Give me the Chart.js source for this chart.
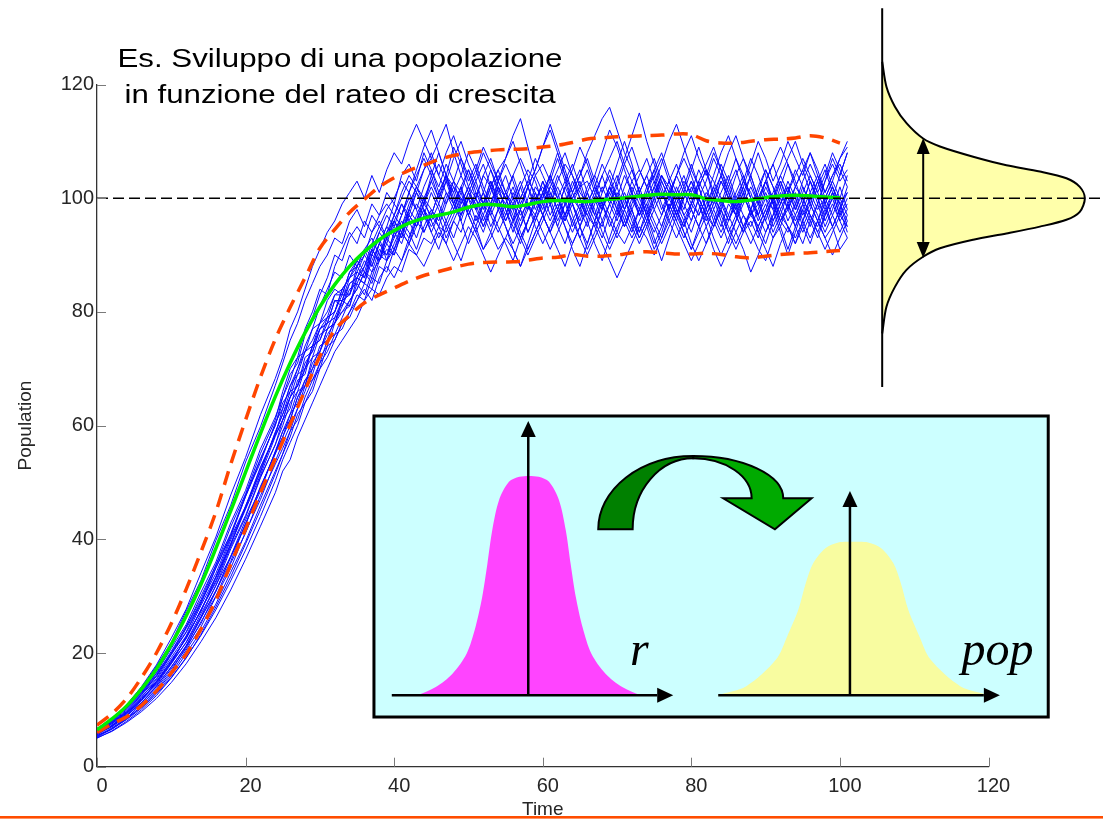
<!DOCTYPE html>
<html>
<head>
<meta charset="utf-8">
<script src="https://cdn.jsdelivr.net/npm/chart.js@4/dist/chart.umd.min.js"></script>
<style>
html,body{margin:0;padding:0;background:#fff;overflow:hidden}
#wrap{position:relative;width:1103px;height:821px}
canvas{display:block}
</style>
</head>
<body>
<div id="wrap"><canvas id="c" width="1103" height="821"></canvas></div>
<script>
// ---------------- data ----------------
const time = [0,2,4,6,8,10,12,14,16,18,20,22,24,
25,26,27,28,29,30,31,32,33,34,35,36,37,38,39,40,41,42,43,44,45,46,47,48,49,50,
51,52,53,54,55,56,57,58,59,60,61,62,63,64,65,66,67,68,69,70,71,72,73,74,75,76,
77,78,79,80,81,82,83,84,85,86,87,88,89,90,91,92,93,94,95,96,97,98,99,100,101];

const run01 = [6.5,8.4,10.9,13.8,17.7,21.8,27.4,32.8,39.8,46.0,53.6,59.8,67.1,
71,75,78,82,85,88,90,93,92,96,98,95,99,97,101,99,104,106,103,108,105,101,104,99,102,97,100,104,107,103,100,96,98,94,97,101,99,103,106,104,100,97,95,98,102,100,104,101,97,99,96,93,97,100,103,101,105,102,98,95,99,97,101,104,100,103,99,96,98,102,105,101,98,100,103,107,110];
const run02 = [6.3,8.2,10.4,13.2,16.5,20.8,25.0,30.7,36.0,42.9,48.6,55.9,61.5,
65,68,72,73,77,78,82,84,83,87,89,87,91,94,92,96,99,97,101,98,95,97,93,96,99,102,100,97,94,91,93,96,100,103,101,98,102,105,108,104,101,99,96,100,97,94,92,95,98,101,104,107,103,100,97,99,103,106,109,105,102,98,95,97,100,96,93,95,99,102,100,97,94,97,101,99,96];
const run03 = [6.0,7.9,9.8,12.6,15.5,19.7,23.6,28.7,34.9,40.5,47.6,53.5,60.5,
63,67,69,73,75,78,79,83,84,86,89,91,88,92,95,93,97,100,98,94,97,101,99,103,107,104,100,96,99,102,98,95,92,96,99,103,100,104,101,97,93,96,100,98,102,99,95,98,101,104,100,97,101,98,94,91,94,97,100,98,102,105,101,97,99,103,100,96,99,95,98,101,104,100,97,94,97];
const run04 = [5.8,7.2,9.4,11.6,15.0,18.2,22.9,27.3,33.4,39.0,45.9,51.8,58.9,
62,65,69,70,74,77,78,82,81,85,86,89,87,91,90,94,92,96,99,97,101,98,95,98,102,105,101,98,102,99,96,99,102,98,101,97,94,97,100,95,98,102,104,101,105,102,98,101,97,100,103,99,96,93,96,99,102,105,103,100,96,99,95,92,95,98,101,104,101,98,102,99,103,106,102,99,101];
const run05 = [6.2,7.7,9.7,12.2,15.3,19.2,23.0,28.4,33.4,39.9,45.5,52.5,58.3,
61,65,67,71,73,77,79,80,84,86,88,91,93,90,94,97,95,99,102,100,96,93,96,99,97,101,104,108,105,101,104,100,97,99,95,92,95,98,96,100,103,99,102,106,103,100,96,93,96,99,102,98,101,104,107,104,100,97,95,98,94,97,100,98,102,105,102,99,103,100,96,93,96,99,102,98,101];
const run06 = [5.6,7.2,9.1,11.7,14.4,18.1,21.9,26.9,31.8,38.3,43.9,50.8,56.7,
60,64,66,70,72,76,77,80,83,83,87,86,90,89,93,91,95,98,96,100,103,100,104,101,97,100,96,99,95,98,101,104,100,103,107,104,101,98,102,99,95,92,96,99,101,98,102,105,101,97,100,104,102,98,95,98,95,99,102,106,103,99,102,98,94,97,100,103,99,96,99,103,100,97,100,104,108];
const run07 = [5.9,7.1,9.0,11.3,14.1,17.6,21.2,26.3,30.8,37.0,42.5,49.3,55.0,
58,62,64,68,70,74,75,79,80,82,84,87,85,89,91,90,94,92,96,99,97,101,104,102,98,101,99,95,98,102,100,97,93,96,100,102,99,95,92,96,99,97,100,104,100,97,99,103,105,102,98,95,99,96,100,103,100,97,93,90,93,96,99,102,99,103,106,102,98,101,97,100,103,99,95,98,94];
const run08 = [5.4,6.8,8.6,11.0,13.5,16.8,21.1,25.2,30.9,36.1,42.8,48.5,55.5,
59,61,65,67,71,73,77,78,81,84,85,88,91,89,93,95,93,97,95,99,102,99,96,93,97,100,98,95,99,103,106,103,99,102,98,101,104,101,97,94,97,101,98,94,91,94,98,101,98,102,105,101,98,102,99,96,100,103,107,104,100,97,94,96,93,97,100,97,101,105,102,99,96,100,103,100,97];
const run09 = [6.0,7.6,9.5,12.0,14.6,18.3,21.8,26.4,31.9,37.0,43.4,48.9,55.4,
58,61,65,68,69,73,76,78,82,83,86,85,89,92,90,93,96,94,91,95,98,96,100,103,101,105,102,99,97,100,97,101,98,102,105,109,112,108,104,101,98,101,97,95,99,103,107,111,115,110,106,102,98,101,97,94,98,101,99,103,100,98,101,97,95,92,96,99,102,99,95,98,102,105,101,97,99];
const run10 = [6.4,8.0,10.3,13.0,16.1,20.3,24.5,30.0,35.4,42.2,48.0,55.1,61.0,
66,70,72,77,80,84,83,88,91,94,92,96,94,97,99,97,101,104,102,105,107,110,113,108,104,101,98,101,97,94,97,100,103,99,96,99,102,100,97,101,104,107,103,99,102,98,95,98,94,97,101,104,101,97,100,103,99,95,98,101,104,100,103,107,104,100,96,99,102,98,101,104,101,98,95,98,102];
const run11 = [5.3,6.7,8.5,10.6,13.3,16.4,20.5,24.6,29.9,34.9,41.3,47.0,53.7,
57,60,63,66,70,72,74,78,80,81,85,83,87,89,92,90,94,97,95,98,94,97,101,99,102,98,95,91,94,98,101,99,96,100,104,101,97,100,103,106,102,98,101,104,107,110,106,103,100,97,94,97,100,104,101,98,95,98,102,99,96,99,103,101,97,94,97,100,96,99,103,106,103,99,102,99,95];
const run12 = [5.0,6.3,8.0,10.0,12.5,15.6,19.1,23.3,28.1,33.4,39.2,45.2,51.5,
55,58,62,64,67,71,73,76,77,80,82,85,84,88,87,91,89,93,96,94,97,95,99,102,100,97,100,104,102,98,95,92,95,99,97,94,91,94,97,100,98,95,99,102,99,96,100,97,93,96,99,103,100,97,101,98,102,105,101,97,94,91,94,98,95,98,94,97,95,92,95,92,96,93,95,91,93];
const run13 = [5.7,7.0,8.9,11.3,13.8,17.2,20.8,25.5,30.0,35.8,41.1,47.7,53.2,
56,59,63,67,68,71,75,76,79,82,84,87,86,90,89,92,95,93,97,100,98,95,92,96,94,98,101,99,103,100,96,99,95,98,102,100,103,107,103,99,102,105,101,98,101,104,100,96,93,96,92,95,99,96,93,96,100,97,100,104,101,97,94,98,101,105,102,98,95,92,96,100,97,94,97,100,104];
const run14 = [6.6,8.3,10.2,12.8,15.9,19.9,23.7,29.0,34.0,40.3,45.8,52.7,58.4,
63,67,70,74,77,81,84,87,86,90,88,90,94,96,93,97,100,103,101,105,108,104,101,98,101,97,94,97,101,104,101,98,94,91,94,97,101,98,102,105,109,106,102,99,95,98,95,99,102,98,95,92,95,98,95,99,103,100,104,108,111,107,103,100,97,100,98,102,106,103,99,96,99,103,106,103,105];
const run15 = [5.1,6.2,7.8,9.7,12.0,14.8,18.1,22.0,26.2,31.1,36.5,42.3,48.2,
52,54,58,61,64,67,70,73,75,77,79,82,84,83,86,88,87,91,90,93,92,95,94,97,100,97,94,91,93,96,99,96,93,90,93,96,99,102,99,96,93,90,93,96,92,95,98,95,92,95,98,101,98,95,92,89,92,95,91,88,91,94,97,94,91,89,93,96,94,97,100,97,94,91,94,97,95];
const run16 = [5.9,7.5,9.5,11.8,14.9,18.6,22.6,27.6,32.7,39.1,45.3,51.3,58.1,
61,65,67,70,74,75,78,79,82,85,86,88,92,95,93,96,94,98,101,99,103,106,103,107,110,106,103,99,102,105,107,111,114,109,104,106,103,100,97,100,102,103,100,96,99,102,106,109,105,102,104,100,103,106,102,99,97,100,97,94,97,101,104,100,96,99,95,98,101,104,107,104,101,104,108,105,102];
const run17 = [6.4,8.2,10.5,13.0,16.4,20.0,24.7,29.4,35.5,41.0,47.8,54.2,60.0,
65,69,71,76,79,83,86,90,89,93,95,93,97,95,98,100,103,101,104,107,104,100,103,99,96,100,103,106,102,105,101,98,102,105,103,99,96,99,95,92,95,99,102,99,96,93,96,100,97,101,105,108,104,101,104,100,97,100,96,93,96,100,97,95,98,102,99,103,100,97,94,97,95,98,101,97,100];
const run18 = [5.5,6.6,8.4,10.5,13.1,16.0,19.9,23.8,28.6,34.2,39.6,46.0,52.0,
55,59,61,65,68,70,74,75,78,80,83,82,86,85,89,91,94,92,95,98,96,99,103,101,104,108,105,101,98,101,99,102,98,94,97,101,104,100,96,99,96,100,97,101,104,100,97,94,98,95,91,94,98,101,98,102,99,96,99,103,100,104,107,103,99,96,100,104,107,110,106,103,100,96,99,96,98];
const run19 = [6.7,8.5,10.9,14.1,17.9,22.6,27.7,34.1,40.4,47.8,54.4,61.9,68.3,
72,77,80,84,88,91,94,96,99,101,103,100,104,101,105,108,106,110,113,110,107,104,108,111,107,103,106,102,99,103,107,110,106,102,105,109,113,109,105,101,104,108,111,114,116,112,108,105,101,104,107,103,100,104,108,111,107,104,108,105,101,98,102,106,110,107,103,106,110,107,104,108,105,101,104,107,109];
const run20 = [5.2,6.6,8.3,10.3,12.8,15.7,19.2,23.1,27.6,32.7,38.1,44.0,50.3,
54,57,60,64,66,70,72,75,78,79,82,84,82,86,88,86,89,92,90,88,91,94,92,89,92,95,93,90,87,90,93,91,88,91,94,97,94,91,88,92,95,98,95,92,89,86,89,92,95,93,90,93,96,99,96,92,89,92,95,98,95,92,95,98,94,91,88,92,95,93,96,99,96,93,90,93,96];
const run21 = [6.1,7.8,9.6,12.3,15.0,18.8,22.5,27.6,32.4,38.7,44.2,51.0,56.6,
61,63,68,69,74,75,79,80,84,83,88,86,91,89,94,96,93,98,102,99,104,108,104,100,96,92,95,99,103,99,95,91,88,92,96,100,104,108,104,99,95,91,94,98,102,106,110,106,101,97,93,89,93,97,101,105,109,105,100,96,92,96,100,104,108,104,99,95,91,95,99,103,99,95,98,102,98];
const run22 = [5.8,7.2,9.1,11.2,14.2,17.5,21.3,26.1,31.0,36.8,42.7,49.1,55.2,
59,62,66,67,72,73,77,78,82,81,86,85,90,93,89,94,97,101,105,109,112,108,104,109,106,102,98,101,105,102,98,94,98,102,99,103,99,95,99,103,100,96,92,89,93,97,101,98,94,98,102,106,110,113,109,105,102,98,95,99,103,107,104,100,97,101,98,94,90,94,98,95,99,103,107,104,108];
const run23 = [6.2,8.0,10.0,12.7,15.9,19.8,24.3,29.0,35.0,40.8,47.5,54.0,60.1,
64,66,70,73,74,78,80,83,83,87,88,91,90,94,97,95,99,96,93,97,94,91,95,92,89,93,97,94,98,95,92,89,93,96,100,97,94,98,95,91,88,92,96,93,97,101,98,102,99,96,100,104,101,97,94,91,95,92,96,100,97,94,91,87,90,94,97,101,98,95,92,96,93,97,100,96,93];
const run24 = [5.7,7.3,9.3,11.7,14.8,18.4,22.7,27.5,33.2,39.3,45.6,52.0,58.7,
62,66,67,72,73,77,78,82,82,86,87,90,88,92,95,99,97,101,98,102,105,102,106,103,99,102,105,109,106,103,100,104,107,104,100,97,100,96,99,102,105,101,104,108,112,109,105,101,104,107,103,100,103,99,102,106,102,98,101,104,108,111,107,104,100,103,106,109,106,102,105,108,104,101,104,106,103];

const meanTime = [0,2,4,6,8,10,12,14,16,18,20,22,24,26,28,30,32,34,36,38,40,42,44,46,48,50,
52,54,56,58,60,62,64,66,68,70,72,74,76,78,80,82,84,86,88,90,92,94,96,98,100];
const meanPop = [6.5,8.4,10.7,13.7,17.2,21.5,26.5,32.1,38.4,45.0,51.8,58.6,65.1,71.0,76.3,80.9,84.8,88.0,90.6,92.7,94.3,95.6,96.5,97.0,97.6,98.4,
98.9,98.8,98.5,98.9,99.4,99.6,99.5,99.4,99.7,99.9,100.2,100.5,100.7,100.6,100.6,99.9,99.6,99.4,99.7,100.1,100.4,100.5,100.4,100.2,100.1];
const upperBand = [7.3,9.3,12.0,15.7,20.0,25.2,31.2,37.8,44.8,53.2,61.0,68.5,75.2,80.8,86.0,91.2,94.5,97.5,99.8,102.0,103.6,104.9,105.8,106.8,107.5,108.0,
108.3,108.5,108.6,108.7,109.0,109.3,109.8,110.4,110.6,110.8,110.9,111.0,111.1,111.3,111.2,110.1,109.7,109.7,110.0,110.3,110.4,110.6,111.0,110.6,109.7];
const lowerBand = [6.0,7.5,8.8,10.8,13.3,16.5,19.8,24.2,29.3,35.6,41.8,48.2,54.2,60.2,66.2,72.2,76.8,79.4,81.6,83.0,84.2,85.4,86.4,87.1,87.8,88.4,
88.7,88.8,88.8,89.1,89.5,89.6,90.1,89.8,89.8,90.0,90.4,90.6,90.4,90.2,90.2,90.3,90.1,89.7,89.5,89.8,90.1,90.3,90.4,90.6,90.8];
const carryingCapacity = 100;

const xTicks = [0,20,40,60,80,100,120];
const yTicks = [0,20,40,60,80,100,120];

// equilibrium distribution of the population (right side)
const distPop = [124.0,119.6,116.1,113.2,110.5,109.1,107.3,105.8,104.7,103.5,102.0,100.0,97.6,96.2,95.0,93.8,92.7,91.2,89.7,87.4,84.4,80.9,76.2];
const distDensity = [0,0.021,0.063,0.12,0.202,0.285,0.449,0.613,0.778,0.909,0.975,1,0.975,0.909,0.778,0.613,0.449,0.285,0.202,0.12,0.063,0.021,0];

// inset: distribution of growth rate r and of pop
const rShapeOffset = [-15.0,-12.55,-10.3,-8.4,-7.2,-6.3,-5.6,-4.95,-4.05,-2.7,-1.3,0,1.3,2.7,4.05,4.95,5.6,6.3,7.2,8.4,10.3,12.55,15.0];
const rShapeDensity = [0,0.038,0.099,0.19,0.312,0.448,0.6,0.752,0.888,0.973,0.996,1,0.996,0.973,0.888,0.752,0.6,0.448,0.312,0.19,0.099,0.038,0];
const popShapeOffset = [-18.4,-14.4,-10.4,-8.9,-7.4,-6.4,-5.4,-3.8,-2.0,0,2.0,3.8,5.4,6.4,7.4,8.9,10.4,14.4,18.4];
const popShapeDensity = [0,0.06,0.233,0.384,0.557,0.73,0.86,0.957,0.996,1,0.996,0.957,0.86,0.73,0.557,0.384,0.233,0.06,0];

const titleLines = ['Es. Sviluppo di una popolazione', 'in funzione del rateo di crescita'];
const xTitle = 'Time';
const yTitle = 'Population';

// ---------------- layout constants (not data) ----------------
const FONT = '"Liberation Sans", Arial, Helvetica, sans-serif';
const DIST_AXIS_X = 105.69, DIST_WIDTH = 27.28;
const R_CENTER = 58.15, R_HEIGHT = 38.6;
const POP_CENTER = 101.8, POP_HEIGHT = 27.0;
const SHAPE_BASE = 12.55;

Chart.defaults.font.family = FONT;

const runs = [run01,run02,run03,run04,run05,run06,run07,run08,run09,run10,run11,run12,
  run13,run14,run15,run16,run17,run18,run19,run20,run21,run22,run23,run24];
const datasets = [];
runs.forEach((r, i) => datasets.push({
  label: 'run ' + (i + 1),
  data: r.map((v, j) => ({x: time[j], y: v})),
  borderColor: '#0a0aff', borderWidth: 1, pointRadius: 0, tension: 0, fill: false, order: 10
}));
datasets.push({label: 'upper', data: meanTime.map((t, j) => ({x: t, y: upperBand[j]})),
  borderColor: '#ff4500', borderWidth: 3.5, borderDash: [14, 9], pointRadius: 0, tension: 0.3, fill: false, order: 6});
datasets.push({label: 'lower', data: meanTime.map((t, j) => ({x: t, y: lowerBand[j]})),
  borderColor: '#ff4500', borderWidth: 3.5, borderDash: [14, 9], pointRadius: 0, tension: 0.3, fill: false, order: 6});
datasets.push({label: 'mean', data: meanTime.map((t, j) => ({x: t, y: meanPop[j]})),
  borderColor: '#00ee00', borderWidth: 3.5, pointRadius: 0, tension: 0.4, fill: false, order: 5});
datasets.push({label: 'dist', data: distPop.map((p, j) => ({x: DIST_AXIS_X + distDensity[j] * DIST_WIDTH, y: p})),
  borderColor: '#000', borderWidth: 2, pointRadius: 0, tension: 0.3, fill: false, clip: false, capBezierPoints: false,
  shapeFill: '#ffffaa', order: 4});
datasets.push({label: 'rShape', data: rShapeOffset.map((o, j) => ({x: R_CENTER + o, y: SHAPE_BASE + rShapeDensity[j] * R_HEIGHT})),
  borderColor: '#ff44ff', borderWidth: 0, pointRadius: 0, tension: 0.3, fill: false, capBezierPoints: false,
  shapeFill: '#ff44ff', order: 4});
datasets.push({label: 'popShape', data: popShapeOffset.map((o, j) => ({x: POP_CENTER + o, y: SHAPE_BASE + popShapeDensity[j] * POP_HEIGHT})),
  borderColor: '#f8fca0', borderWidth: 0, pointRadius: 0, tension: 0.3, fill: false, capBezierPoints: false,
  shapeFill: '#f8fca0', order: 4});
datasets.push({label: 'distAxis', data: [{x: DIST_AXIS_X, y: 133.4}, {x: DIST_AXIS_X, y: 66.8}],
  borderColor: '#000', borderWidth: 2, pointRadius: 0, fill: false, clip: false, order: 3});
datasets.push({label: 'K', data: [{x: 0, y: carryingCapacity}, {x: 136, y: carryingCapacity}],
  borderColor: '#000', borderWidth: 1.4, borderDash: [11, 5], pointRadius: 0, fill: false, clip: false, order: 2});

const shapeFillPlugin = {
  id: 'shapeFill',
  beforeDatasetDraw(chart, args) {
    const ds = chart.data.datasets[args.index];
    if (!ds.shapeFill) return;
    const meta = args.meta, line = meta.dataset, ctx = chart.ctx;
    ctx.save();
    ctx.beginPath();
    let ok = false;
    if (line && typeof line.path === 'function') {
      try {
        if (typeof line.updateControlPoints === 'function') line.updateControlPoints(chart.chartArea, 'x');
        line.path(ctx); ok = true;
      } catch (e) { ok = false; }
    }
    if (!ok) {
      ctx.beginPath();
      meta.data.forEach((p, i) => i ? ctx.lineTo(p.x, p.y) : ctx.moveTo(p.x, p.y));
    }
    ctx.closePath();
    ctx.fillStyle = ds.shapeFill;
    ctx.fill();
    ctx.restore();
  }
};

// inward tick marks (MATLAB style), placed through the scales
const innerTicksPlugin = {
  id: 'innerTicks',
  afterDatasetsDraw(chart) {
    const ctx = chart.ctx, xs = chart.scales.x, ys = chart.scales.y, a = chart.chartArea;
    ctx.save();
    ctx.strokeStyle = '#7a7a7a'; ctx.lineWidth = 1;
    ctx.beginPath();
    xTicks.forEach(v => { const p = Math.round(xs.getPixelForValue(v)) + 0.5; ctx.moveTo(p, a.bottom); ctx.lineTo(p, a.bottom - 9); });
    yTicks.forEach(v => { const p = Math.round(ys.getPixelForValue(v)) + 0.5; ctx.moveTo(a.left, p); ctx.lineTo(a.left + 9, p); });
    ctx.stroke();
    ctx.restore();
  }
};

function arrow(ctx, x1, y1, x2, y2, lw, hl, hw) {
  const a = Math.atan2(y2 - y1, x2 - x1);
  const bx = x2 - Math.cos(a) * hl, by = y2 - Math.sin(a) * hl;
  ctx.lineWidth = lw;
  ctx.beginPath(); ctx.moveTo(x1, y1); ctx.lineTo(bx, by); ctx.stroke();
  ctx.beginPath(); ctx.moveTo(x2, y2);
  ctx.lineTo(bx + Math.sin(a) * hw / 2, by - Math.cos(a) * hw / 2);
  ctx.lineTo(bx - Math.sin(a) * hw / 2, by + Math.cos(a) * hw / 2);
  ctx.closePath(); ctx.fill();
}

const decorPlugin = {
  id: 'decor',
  beforeDatasetsDraw(chart) {
    const ctx = chart.ctx, xs = chart.scales.x, ys = chart.scales.y;
    const X = v => xs.getPixelForValue(v), Y = v => ys.getPixelForValue(v);
    const l = X(37.28), r = X(128.04), t = Y(61.69), b = Y(8.74);
    ctx.save();
    ctx.fillStyle = '#ccffff';
    ctx.fillRect(l, t, r - l, b - t);
    ctx.lineWidth = 3; ctx.strokeStyle = '#000';
    ctx.strokeRect(l, t, r - l, b - t);
    ctx.restore();
  },
  afterDatasetsDraw(chart) {
    const ctx = chart.ctx, xs = chart.scales.x, ys = chart.scales.y;
    const X = v => xs.getPixelForValue(v), Y = v => ys.getPixelForValue(v);
    const sx = X(1) - X(0), sy = Y(0) - Y(1);
    ctx.save();
    ctx.fillStyle = '#000'; ctx.strokeStyle = '#000'; ctx.lineCap = 'butt';
    // inset axes
    arrow(ctx, X(39.68), Y(SHAPE_BASE), X(77.56), Y(SHAPE_BASE), 2.5, 16, 15);
    arrow(ctx, X(58.05), Y(SHAPE_BASE), X(58.05), Y(60.81), 2.5, 16, 15);
    arrow(ctx, X(83.62), Y(SHAPE_BASE), X(121.53), Y(SHAPE_BASE), 2.5, 16, 15);
    arrow(ctx, X(101.35), Y(SHAPE_BASE), X(101.35), Y(48.5), 2.5, 16, 15);
    // spread arrow on the equilibrium distribution
    arrow(ctx, X(111.21), Y(100), X(111.21), Y(110.6), 2, 16, 13);
    arrow(ctx, X(111.21), Y(100), X(111.21), Y(89.5), 2, 16, 13);
    // curved green arrow
    ctx.lineWidth = 2; ctx.lineJoin = 'miter';
    const c1x = X(80.26), c1y = Y(41.76);
    ctx.beginPath();
    ctx.ellipse(c1x, c1y, 12.79 * sx, 12.89 * sy, 0, Math.PI, 1.5 * Math.PI, false);
    ctx.ellipse(c1x, c1y, 8.16 * sx, 12.49 * sy, 0, 1.5 * Math.PI, Math.PI, true);
    ctx.closePath();
    ctx.fillStyle = '#008000'; ctx.fill(); ctx.stroke();
    const c2x = X(80.26), c2y = Y(47.21);
    ctx.beginPath();
    ctx.ellipse(c2x, c2y, 12.11 * sx, 7.44 * sy, 0, 1.5 * Math.PI, 2 * Math.PI, false);
    ctx.lineTo(X(96.19), Y(47.21));
    ctx.lineTo(X(91.25), Y(41.76));
    ctx.lineTo(X(84.29), Y(47.21));
    ctx.ellipse(c2x, c2y, 7.86 * sx, 7.04 * sy, 0, 2 * Math.PI, 1.5 * Math.PI, true);
    ctx.closePath();
    ctx.fillStyle = '#00aa00'; ctx.fill(); ctx.stroke();
    // italic variable names
    ctx.fillStyle = '#000';
    ctx.font = 'italic 48px "Liberation Serif", "Times New Roman", serif';
    ctx.textAlign = 'left'; ctx.textBaseline = 'alphabetic';
    ctx.fillText('r', X(71.74), Y(17.89));
    ctx.fillText('pop', X(116.38), Y(17.89));
    // title
    ctx.font = '26px ' + FONT;
    ctx.textAlign = 'center';
    const w = ctx.measureText(titleLines[0]).width;
    const k = w > 0 ? 445 / w : 1;
    const bases = [123.08, 116.66];
    titleLines.forEach((s, i) => {
      ctx.save();
      ctx.translate(X(32.71), Y(bases[i]));
      ctx.scale(k, 1);
      ctx.fillText(s, 0, 0);
      ctx.restore();
    });
    ctx.restore();
  },
  afterDraw(chart) {
    const ctx = chart.ctx;
    ctx.save();
    ctx.fillStyle = '#ff4d00';
    ctx.fillRect(0, 816, chart.width, 2.6);
    ctx.restore();
  }
};

new Chart(document.getElementById('c'), {
  type: 'line',
  data: {datasets},
  plugins: [shapeFillPlugin, innerTicksPlugin, decorPlugin],
  options: {
    responsive: false,
    animation: false,
    events: [],
    layout: {padding: {top: 84.5, right: 114.5, bottom: 0, left: 0}},
    plugins: {legend: {display: false}, tooltip: {enabled: false}, title: {display: false}},
    scales: {
      x: {
        type: 'linear', min: 0, max: 120,
        afterBuildTicks: s => { s.ticks = xTicks.map(v => ({value: v})); },
        afterFit: s => { s.height = 54.3; },
        grid: {display: false, drawOnChartArea: false, drawTicks: false, tickLength: 0},
        border: {display: true, color: '#333', width: 1.3},
        ticks: {font: {size: 20, family: FONT}, color: '#262626', padding: 8, labelOffset: 5, maxRotation: 0, autoSkip: false},
        title: {display: true, text: xTitle, font: {size: 19, family: FONT}, color: '#262626', padding: {top: -2, bottom: 0}}
      },
      y: {
        type: 'linear', min: 0, max: 120,
        afterBuildTicks: s => { s.ticks = yTicks.map(v => ({value: v})); },
        afterFit: s => { s.width = 97; },
        grid: {display: false, drawOnChartArea: false, drawTicks: false, tickLength: 0},
        border: {display: true, color: '#333', width: 1.3},
        ticks: {font: {size: 20, family: FONT}, color: '#262626', padding: 3, autoSkip: false},
        title: {display: true, text: yTitle, font: {size: 19, family: FONT}, color: '#262626', padding: {top: 14, bottom: 0}}
      }
    }
  }
});
</script>
</body>
</html>
